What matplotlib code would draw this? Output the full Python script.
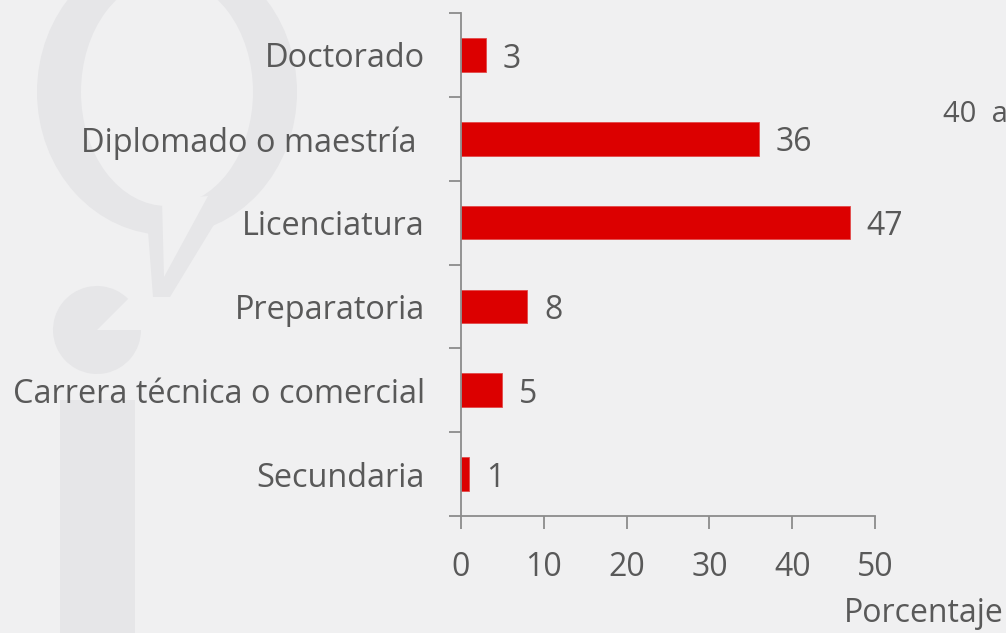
import numpy as np
import matplotlib
matplotlib.use("Agg")
import matplotlib.pyplot as plt
from matplotlib.patches import Ellipse, Polygon, Wedge, Rectangle

# data (bottom to top)
categorias = ["Secundaria", "Carrera técnica o comercial", "Preparatoria",
              "Licenciatura", "Diplomado o maestría ", "Doctorado"]
porcentajes = [1, 5, 8, 47, 36, 3]
xticks_vals = [0, 10, 20, 30, 40, 50]

BG = "#f0f0f1"
WM = "#e6e6e8"
TXT = "#595959"
RED = "#dc0000"
AXC = "#8c8c8c"

plt.rcParams["font.family"] = ["Open Sans", "DejaVu Sans"]

W, H = 1006, 633
fig = plt.figure(figsize=(W / 100, H / 100), dpi=100, facecolor=BG)

# watermark (logo) in pixel coordinates
bg = fig.add_axes([0, 0, 1, 1])
bg.set_xlim(0, W)
bg.set_ylim(H, 0)
bg.axis("off")
bg.add_patch(Ellipse((167, 92), 260, 286, color=WM, lw=0))
bg.add_patch(Polygon([(146, 205), (153, 297), (170, 297), (232, 195)], color=WM, lw=0))
bg.add_patch(Ellipse((167, 92), 172, 228, color=BG, lw=0))
bg.add_patch(Polygon([(162, 200), (164, 277), (208, 196)], color=BG, lw=0))
bg.add_patch(Wedge((97, 330), 44, 0, 315, color=WM, lw=0))
bg.add_patch(Rectangle((60, 400), 75, 240, color=WM, lw=0))

ax = fig.add_axes([461 / W, 1 - 516 / H, (875 - 461) / W, (516 - 13) / H])
ax.set_facecolor("none")

y = np.arange(len(categorias))
ax.barh(y, porcentajes, height=0.4, color=RED, edgecolor="#e24a4a", linewidth=0.6)

for yi, v in zip(y, porcentajes):
    ax.annotate(str(v), (v, yi), xytext=(12, -3), textcoords="offset points",
                va="center", ha="left", fontsize=23, color=TXT)

ax.set_xlim(0, 50)
ax.set_ylim(-0.5, len(categorias) - 0.5)

ax.set_xticks(xticks_vals)
ax.set_xticklabels([str(t) for t in xticks_vals])
ax.tick_params(axis="x", length=9, width=1.3, color=AXC, direction="out",
               labelsize=23, labelcolor=TXT, pad=16)

ax.set_yticks(np.arange(-0.5, len(categorias), 1.0))
ax.set_yticklabels([])
ax.set_yticks(y, minor=True)
ax.set_yticklabels(categorias, minor=True)
ax.tick_params(axis="y", which="major", length=9, width=1.3, color=AXC, direction="out")
ax.tick_params(axis="y", which="minor", length=0, labelsize=23.4, labelcolor=TXT, pad=26)

for s in ["top", "right"]:
    ax.spines[s].set_visible(False)
for s in ["left", "bottom"]:
    ax.spines[s].set_color(AXC)
    ax.spines[s].set_linewidth(1.3)

fig.text(1004 / W, 1 - 614 / H, "Porcentaje", ha="right", va="center",
         fontsize=23, color=TXT)
fig.text(943 / W, 1 - 115 / H, "40  a", ha="left", va="center",
         fontsize=21, color=TXT)

fig.savefig("out.png", dpi=100, facecolor=BG)
